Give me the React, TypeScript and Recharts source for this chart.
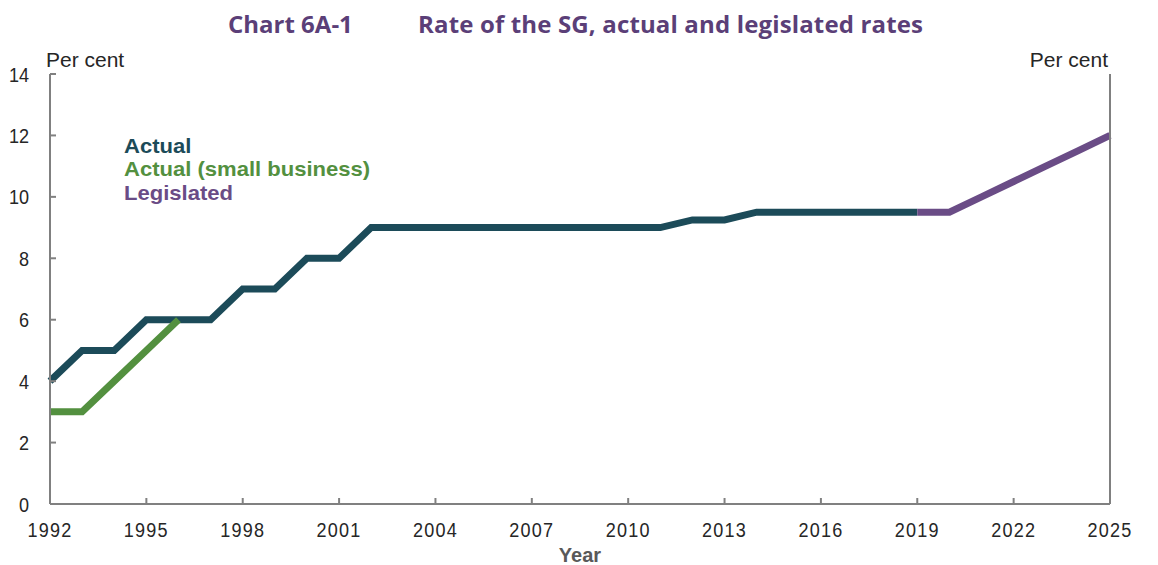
import React from "react";
import { LineChart, Line, XAxis, YAxis } from "recharts";

const years = [1992, 1993, 1994, 1995, 1996, 1997, 1998, 1999, 2000, 2001, 2002, 2003, 2004, 2005, 2006, 2007, 2008, 2009, 2010, 2011, 2012, 2013, 2014, 2015, 2016, 2017, 2018, 2019, 2020, 2021, 2022, 2023, 2024, 2025];
const actual: (number | null)[] = [4, 5, 5, 6, 6, 6, 7, 7, 8, 8, 9, 9, 9, 9, 9, 9, 9, 9, 9, 9, 9.25, 9.25, 9.5, 9.5, 9.5, 9.5, 9.5, 9.5, null, null, null, null, null, null];
const smallBusiness: (number | null)[] = [3, 3, 4, 5, 6, null, null, null, null, null, null, null, null, null, null, null, null, null, null, null, null, null, null, null, null, null, null, null, null, null, null, null, null, null];
const legislated: (number | null)[] = [null, null, null, null, null, null, null, null, null, null, null, null, null, null, null, null, null, null, null, null, null, null, null, null, null, null, null, 9.5, 9.5, 10, 10.5, 11, 11.5, 12];
const xTicks = [1992, 1995, 1998, 2001, 2004, 2007, 2010, 2013, 2016, 2019, 2022, 2025];
const yTicks = [0, 2, 4, 6, 8, 10, 12, 14];
const seriesNames = ["Actual", "Actual (small business)", "Legislated"];

const data = years.map((y, i) => ({
  year: y,
  actual: actual[i],
  small: smallBusiness[i],
  legislated: legislated[i],
}));

const AXIS = "#808080";
const TEXT = "#262626";
const FONT = "'Liberation Sans', Arial, sans-serif";
const C_ACTUAL = "#1c4b59";
const C_SMALL = "#53903f";
const C_LEG = "#6a4c86";
const LM = 21;
const RM = 18;
const XM = 12;
const TL = 6;
const SX = 0.86;

const LeftTick = (p: any) => (
  <g>
    <line x1={p.x + LM} x2={p.x + LM + TL} y1={p.y} y2={p.y} stroke={AXIS} strokeWidth={2} />
    <text transform={`translate(${p.x},${p.y}) scale(${SX},1)`} dy="0.36em" textAnchor="end" fontSize={21} fill={TEXT} fontFamily={FONT}>{p.payload.value}</text>
  </g>
);
const RightTick = (p: any) => (
  <g>
    <line x1={p.x - RM} x2={p.x - RM - TL} y1={p.y} y2={p.y} stroke={AXIS} strokeWidth={2} />
    <text transform={`translate(${p.x},${p.y}) scale(${SX},1)`} dy="0.36em" textAnchor="start" fontSize={21} fill={TEXT} fontFamily={FONT}>{p.payload.value}</text>
  </g>
);
const BottomTick = (p: any) => (
  <g>
    <line x1={p.x} x2={p.x} y1={p.y - XM} y2={p.y - XM - TL} stroke={AXIS} strokeWidth={2} />
    <text transform={`translate(${p.x},${p.y + 21}) scale(${SX},1)`} textAnchor="middle" fontSize={21} letterSpacing={1.4} fill={TEXT} fontFamily={FONT}>{p.payload.value}</text>
  </g>
);

const legendColors = [C_ACTUAL, C_SMALL, C_LEG];

export default function App() {
  return (
    <div style={{ position: "absolute", left: 0, top: 0, width: 1158, height: 565, background: "#fff" }}>
      <LineChart width={1158} height={565} data={data} margin={{ top: 74, right: 8, bottom: 31, left: 10 }}>
        <XAxis
          dataKey="year"
          type="number"
          domain={[1992, 2025]}
          ticks={xTicks}
          interval={0}
          stroke={AXIS}
          strokeWidth={2}
          tickLine={false}
          tickSize={0}
          tickMargin={XM}
          height={30}
          tick={<BottomTick />}
        />
        <YAxis
          yAxisId="left"
          orientation="left"
          domain={[0, 14]}
          ticks={yTicks}
          interval={0}
          width={40}
          stroke={AXIS}
          strokeWidth={2}
          tickLine={false}
          tickSize={0}
          tickMargin={LM}
          tick={<LeftTick />}
        />
        <YAxis
          yAxisId="right"
          orientation="right"
          domain={[0, 14]}
          ticks={yTicks}
          interval={0}
          width={40}
          stroke={AXIS}
          strokeWidth={2}
          tickLine={false}
          tickSize={0}
          tickMargin={RM}
          tick={<RightTick />}
        />
        <Line yAxisId="left" type="linear" dataKey="actual" name={seriesNames[0]} stroke={C_ACTUAL} strokeWidth={7} dot={false} activeDot={false} isAnimationActive={false} connectNulls={false} />
        <Line yAxisId="left" type="linear" dataKey="small" name={seriesNames[1]} stroke={C_SMALL} strokeWidth={7} dot={false} activeDot={false} isAnimationActive={false} connectNulls={false} />
        <Line yAxisId="left" type="linear" dataKey="legislated" name={seriesNames[2]} stroke={C_LEG} strokeWidth={7} dot={false} activeDot={false} isAnimationActive={false} connectNulls={false} />
      </LineChart>
      <svg width={1158} height={565} style={{ position: "absolute", left: 0, top: 0, pointerEvents: "none" }}>
        <g fontFamily="'Open Sans', sans-serif" fontWeight="bold" fontSize={24} fill="#5b3f78">
          <text x={228} y={33}>Chart 6A-1</text>
          <text x={418} y={33} letterSpacing={0.15}>Rate of the SG, actual and legislated rates</text>
        </g>
        <g fontFamily={FONT} fontSize={21} fill={TEXT}>
          <text x={46} y={67}>Per cent</text>
          <text x={1108} y={67} textAnchor="end">Per cent</text>
        </g>
        <text x={580} y={562} textAnchor="middle" fontFamily={FONT} fontSize={20} fontWeight="bold" fill="#595959">Year</text>
        <g fontFamily={FONT} fontSize={21} fontWeight="bold">
          {seriesNames.map((n, i) => (
            <text key={n} x={124} y={153 + i * 23.5} fill={legendColors[i]} transform={`translate(124,0) scale(1.05,1) translate(-124,0)`}>{n}</text>
          ))}
        </g>
      </svg>
    </div>
  );
}
